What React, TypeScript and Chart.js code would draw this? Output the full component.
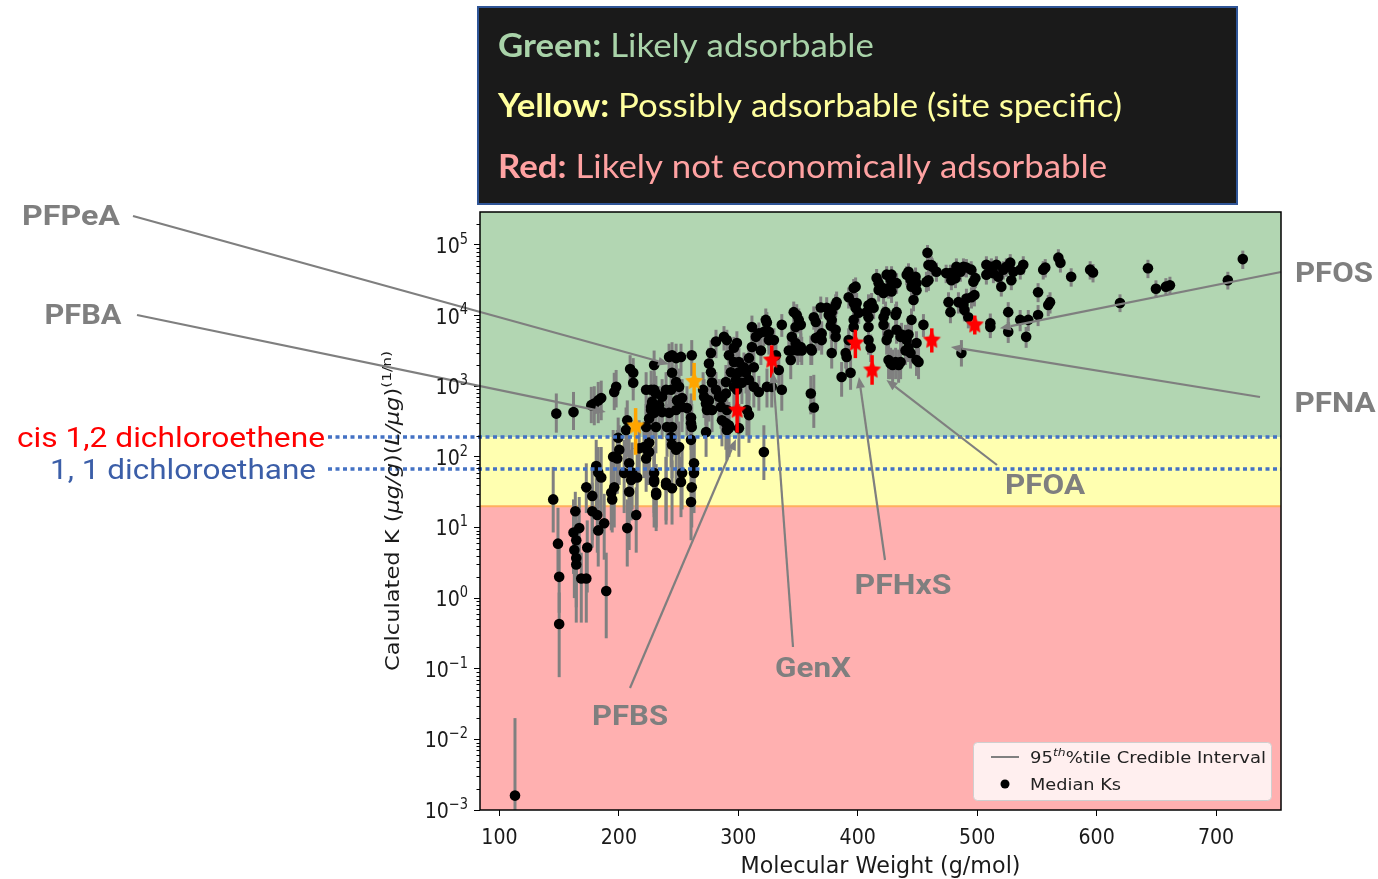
import React, { useEffect, useRef } from 'react';
import { Chart, registerables } from 'chart.js';

Chart.register(...registerables);

// ================= DATA =================
// Molecular weight (g/mol), median K, lower / upper 95th-percentile credible bounds

// Group A: short chain compounds (MW < 240)
const mwA = [
  113, 145, 147.6, 149, 150, 150, 162, 163.5, 162, 164.3,
  162.7, 164.3, 164.3, 168.5, 172.7, 166.8, 173.5, 172.7, 177.7, 177.7,
  181.9, 182.7, 187.7, 189.4, 176.9, 179.4, 182.7, 185.2, 196.1, 197.7,
  209.4, 212, 212, 229.5, 181, 182.7, 185.2, 196.1, 193.6, 194.4,
  198.6, 200.3, 195.2, 199.4, 207, 206, 204.4, 208.6, 211.1, 210.3,
  208.6, 215.3, 217, 222.8, 223.6, 225.3, 229.5, 229.5, 231.2, 227,
  227.8, 229.5, 227, 239.5, 214.5, 207,
];
const kA = [
  0.0016, 25, 410, 5.9, 2.0, 0.43, 430, 17, 8.5, 6.6,
  4.8, 3.7, 3.0, 1.9, 1.9, 9.8, 5.2, 37, 28, 17,
  15, 9.1, 11.5, 1.26, 540, 570, 630, 680, 830, 980,
  1750, 1550, 1120, 2000, 74, 60, 51, 37, 31, 25,
  95, 126, 100, 186, 330, 240, 59, 81, 60, 47,
  32, 51, 132, 95, 126, 160, 47, 59, 29, 460,
  600, 890, 890, 40, 15, 9.8,
];
const kLoA = [
  0.0005, 8.5, 220, 2.2, 0.62, 0.076, 240, 5.2, 2.2, 1.8,
  1.0, 0.74, 0.45, 0.45, 0.45, 3.5, 1.2, 16, 6.6, 5.2,
  4.4, 2.8, 3.5, 0.27, 300, 280, 300, 330, 460, 500,
  980, 890, 630, 1120, 19, 19, 16, 10, 9.1, 8.5,
  30, 40, 35, 47, 100, 79, 16, 25, 18, 12.6,
  4.8, 14, 47, 32, 40, 56, 10, 16, 10, 200,
  280, 450, 450, 11, 4.4, 2.8,
];
const kHiA = [
  0.02, 72, 790, 19, 5.2, 1.2, 830, 32, 25, 19,
  10, 12.6, 6.6, 4.4, 5.2, 27, 12.6, 81, 72, 43,
  37, 25, 30, 4.4, 980, 1000, 1150, 1200, 1550, 1700,
  2750, 2500, 2000, 3200, 174, 138, 138, 126, 89, 72,
  240, 280, 240, 360, 630, 500, 174, 200, 160, 126,
  72, 126, 330, 224, 280, 355, 112, 141, 65, 890,
  1120, 1580, 1660, 100, 37, 25,
];

// Group B: MW 220 - 325
const mwB = [
  222.8, 231, 227, 229.5, 225.3, 222.8, 231, 233.7, 221, 225.3,
  229.5, 231.2, 239.5, 244.5, 252, 242, 244.5, 247.9, 252, 261,
  244.5, 247.9, 250.4, 243.7, 239.5, 236.2, 248.7, 252.9, 252.9, 257,
  247.9, 242, 236.2, 244.5, 240.3, 243.7, 244.5, 247.9, 250.4, 260.4,
  260.4, 260.4, 261, 262.9, 262.9, 261, 260.4, 252.9, 273, 271.3,
  270.5, 272.9, 275.4, 277.1, 275.4, 277.1, 281.3, 278, 281.3, 283.8,
  286.3, 289.6, 285.5, 278, 273.8, 289.6, 286.3, 292.1, 290.4, 288,
  290.4, 296.3, 298.8, 292.1, 296.3, 300.5, 293.8, 300.5, 304.7, 298,
  298.8, 303, 296.3, 289.6, 311.4, 314.7, 311.4, 317.2, 321.4, 323.9,
  323, 325.6, 318.9, 308.9, 313, 306.4, 308.9, 313, 317.2, 307.2,
  308.9, 300.5, 324, 321.4, 292.1, 290.4,
];
const kB = [
  890, 790, 510, 420, 350, 265, 265, 540, 138, 117,
  44, 31, 43, 36, 44, 2600, 2750, 2500, 2600, 2750,
  1550, 1150, 980, 890, 890, 710, 630, 680, 510, 490,
  460, 420, 430, 265, 265, 190, 148, 126, 138, 174,
  360, 300, 265, 81, 59, 37, 23, 59, 224, 710,
  890, 570, 630, 1580, 2100, 2950, 4300, 1130, 890, 710,
  680, 790, 510, 460, 460, 300, 330, 255, 240, 5000,
  4500, 3500, 4100, 2750, 2200, 2200, 1580, 1580, 1860, 1230,
  890, 1120, 980, 1150, 6900, 5000, 3600, 5600, 5900, 8000,
  8700, 4500, 3200, 2500, 1860, 1550, 1230, 980, 830, 460,
  390, 255, 980, 117, 280, 460,
];
const kLoB = [
  400, 355, 224, 178, 141, 100, 112, 250, 50, 40,
  14, 8.9, 12.6, 11, 14, 1400, 1580, 1400, 1400, 1400,
  790, 560, 500, 450, 400, 316, 280, 316, 224, 200,
  200, 178, 178, 100, 100, 71, 50, 40, 45, 56,
  158, 126, 100, 25, 16, 10, 6.6, 18, 100, 355,
  450, 280, 316, 890, 1260, 1780, 2500, 560, 450, 355,
  355, 400, 250, 224, 200, 126, 141, 100, 89, 3200,
  2800, 2000, 2500, 1580, 1260, 1260, 890, 890, 1000, 630,
  450, 560, 500, 560, 4500, 3200, 2200, 3500, 3700, 5000,
  5600, 2800, 2000, 1400, 1000, 790, 630, 500, 450, 200,
  158, 100, 500, 47, 112, 200,
];
const kHiB = [
  1580, 1400, 1000, 790, 710, 560, 525, 1000, 316, 280,
  112, 79, 100, 89, 100, 4000, 4200, 4000, 4000, 4500,
  2800, 2000, 1780, 1580, 1580, 1260, 1120, 1260, 1000, 1000,
  890, 790, 790, 560, 560, 400, 316, 280, 316, 400,
  790, 630, 560, 200, 158, 100, 63, 141, 450, 1260,
  1580, 1000, 1120, 2500, 3500, 4500, 6300, 2000, 1580, 1260,
  1260, 1400, 1000, 890, 890, 630, 710, 560, 500, 7100,
  6300, 5000, 6000, 4200, 3500, 3500, 2600, 2600, 3000, 2000,
  1580, 2000, 1780, 2000, 10000, 7400, 5600, 8000, 8300, 11200,
  12600, 6600, 5000, 4000, 3200, 2500, 2000, 1660, 1400, 890,
  790, 560, 1780, 280, 600, 890,
];

// Group C: MW 325 - 465
const mwC = [
  336.4, 325.6, 329.8, 331.5, 333.9, 328, 336.4, 346.4, 348.9, 350.6,
  348, 352.3, 344.8, 348, 352.3, 344.8, 349.8, 342.3, 343.9, 353.1,
  361.5, 363.2, 364.9, 369, 369.8, 367.3, 369.8, 364.9, 360.7, 360.7,
  363.2, 374, 375.7, 378.2, 381.5, 382.3, 378.2, 377.4, 381.5, 381.5,
  378.2, 390.7, 389.9, 386.5, 394, 396.6, 398.2, 392.4, 396.6, 399.1,
  398.2, 400.8, 396.6, 396.6, 392.4, 409, 411.6, 407.4, 409, 409,
  409, 410.8, 413.3, 417.5, 415.8, 417.5, 420, 421.6, 424.2, 428.3,
  427.5, 430, 432.5, 425.8, 428.3, 423.3, 421.6, 421.6, 425.8, 424.2,
  431.7, 432.5, 432.5, 435.9, 436.7, 440, 442.5, 440.9, 442.5, 444.2,
  440, 449.2, 431.7, 427.5, 429.2, 434.2, 435.9, 425.8, 441, 442.5,
  444.2, 448.4, 449.2, 445, 449.2, 446.7, 445, 455, 449.2, 450.9,
  457.5, 459.2, 461.7, 458.4, 462.5,
];
const kC = [
  7400, 5900, 4500, 2750, 1700, 980, 890, 11200, 10200, 8700,
  6900, 7400, 5000, 4100, 3600, 3200, 3200, 3200, 2350, 3200,
  3200, 9500, 8100, 13000, 5600, 5000, 4500, 4800, 3400, 790,
  500, 12900, 10200, 11200, 14000, 15500, 8700, 7200, 6300, 5000,
  2950, 2600, 2950, 1350, 1550, 24500, 25700, 18200, 15100, 15100,
  12900, 11000, 8700, 6900, 4500, 14000, 15100, 11200, 9500, 6900,
  4500, 3500, 12900, 23000, 34000, 28800, 25100, 20900, 38000, 38000,
  32400, 28800, 28800, 24500, 21900, 11200, 9500, 7400, 5400, 4500,
  10200, 11200, 6300, 5000, 5400, 5000, 5400, 4500, 3500, 2950,
  3200, 4100, 2200, 2100, 2000, 2000, 2200, 2350, 38000, 41700,
  32400, 35500, 28800, 25700, 22900, 16600, 8700, 7400, 2350, 2200,
  30000, 52000, 52000, 77600, 49000,
];
const kLoC = [
  5000, 3500, 2800, 1580, 890, 500, 450, 7600, 7100, 5600,
  4500, 5000, 3200, 2500, 2200, 2000, 2000, 2000, 1260, 2000,
  2000, 6300, 5200, 8900, 3500, 3200, 2800, 3000, 2000, 400,
  257, 8700, 6900, 7600, 9500, 10500, 5600, 4700, 4000, 3200,
  1780, 1580, 1780, 710, 890, 17800, 18600, 12600, 10500, 10500,
  8900, 7600, 5900, 4500, 2800, 9500, 10500, 7600, 6300, 4500,
  2800, 2200, 8900, 15800, 24000, 20000, 17800, 14500, 26900, 26900,
  22900, 20400, 20400, 17400, 15100, 7600, 6300, 5000, 3400, 2800,
  6900, 7600, 4000, 3200, 3400, 3200, 3400, 2800, 2200, 1780,
  2000, 2500, 1260, 1260, 1120, 1120, 1260, 1260, 26900, 29500,
  22900, 25100, 20400, 18200, 16200, 11500, 5900, 5000, 1400, 1260,
  21400, 38000, 38000, 57500, 35500,
];
const kHiC = [
  10500, 8300, 6600, 4200, 2800, 1660, 1580, 15800, 14500, 12600,
  10000, 10500, 7400, 6000, 5600, 5000, 5000, 5000, 3700, 5000,
  5000, 13500, 11700, 18600, 8300, 7600, 6600, 7100, 5200, 1400,
  1450, 18200, 14500, 15800, 20000, 21900, 12600, 10500, 9100, 7400,
  4600, 4000, 4600, 2200, 2500, 33000, 34700, 25000, 20900, 20900,
  17800, 15100, 12600, 10000, 6600, 20000, 20900, 15800, 13500, 10000,
  6600, 5400, 17800, 31600, 45700, 39800, 34700, 28800, 50000, 50000,
  43700, 39800, 39800, 33100, 30200, 15800, 13500, 10500, 7900, 6600,
  14500, 15800, 9100, 7400, 7900, 7400, 7900, 6600, 5400, 4600,
  5000, 6000, 3500, 3500, 3300, 3300, 3500, 3700, 50000, 55000,
  43700, 47900, 39800, 35500, 31600, 22900, 12600, 10500, 3700, 3500,
  41700, 69000, 69000, 100000, 64600,
];

// Group D: MW > 455
const mwD = [
  465.9, 459.2, 474, 477.6, 480.1, 478.4, 481.8, 482.6, 486, 488.5,
  491, 495, 498.5, 496.8, 507.7, 511.9, 513.6, 516.1, 517.7, 520.2,
  521.9, 527.7, 530.3, 528.6, 536.1, 538.6, 524.4, 507.7, 476, 477.6,
  484.3, 488.5, 491, 495.2, 497.7, 489.3, 492.6, 511, 511, 526,
  526, 536, 542.8, 541, 551, 551, 555.3, 557, 561, 559.5,
  568, 569.7, 578.7, 594.6, 597, 486.8, 619.6, 643, 649.7, 658,
  661.4, 722.4, 709.9,
];
const kD = [
  41700, 31600, 40000, 40000, 37200, 31600, 33900, 49000, 41700, 49000,
  47900, 44700, 33900, 30200, 52500, 49000, 39800, 52500, 35500, 25700,
  44700, 56200, 41700, 31600, 44700, 52500, 49000, 38000, 15500, 11200,
  15500, 14100, 17400, 18200, 19500, 12000, 9500, 6900, 7800, 11200,
  5900, 8700, 8700, 5000, 21400, 10200, 44700, 47900, 15500, 14100,
  66100, 56200, 35500, 44700, 40700, 2950, 15100, 46800, 24000, 25700,
  26900, 63100, 31600,
];
const kLoD = [
  30200, 22400, 28800, 28800, 26900, 22900, 24500, 35500, 30200, 35500,
  34700, 32400, 24500, 21900, 38000, 35500, 28800, 38000, 25700, 18600,
  32400, 40700, 30200, 22900, 32400, 38000, 35500, 27500, 10700, 7800,
  10700, 9800, 12000, 12600, 13500, 8300, 6600, 4800, 5400, 7800,
  4100, 6000, 6000, 3500, 15500, 7100, 32400, 34700, 10700, 9800,
  47900, 40700, 25700, 32400, 29500, 1900, 11200, 33900, 17800, 19100,
  20000, 45700, 23400,
];
const kHiD = [
  56200, 43700, 52500, 52500, 50100, 42700, 45700, 64600, 56200, 64600,
  63100, 58900, 45700, 40700, 69200, 64600, 52500, 69200, 47900, 34700,
  58900, 74100, 56200, 42700, 58900, 69200, 64600, 50100, 21400, 15500,
  21400, 19500, 24000, 25100, 26900, 16600, 13200, 9500, 10700, 15500,
  8100, 12000, 12000, 6900, 28800, 14100, 58900, 63100, 21400, 19500,
  87100, 74100, 46800, 58900, 53700, 4500, 20000, 61700, 31600, 33900,
  35500, 83200, 41700,
];

// Highlighted regulated compounds
const hlNames = ['PFBA', 'PFPeA', 'PFBS', 'GenX', 'PFHxS', 'PFOA', 'PFNA', 'PFOS'];
const hlMw = [214, 263, 299, 328, 398, 412, 462, 498];
const hlK = [275, 1170, 460, 2350, 4100, 1700, 4500, 7400];
const hlLo = [107, 630, 220, 1320, 2500, 1050, 3000, 5400];
const hlHi = [490, 2140, 930, 3800, 6300, 2750, 6600, 10000];
const hlTier = ['orange', 'orange', 'red', 'red', 'red', 'red', 'red', 'red'];

// Callout arrows: label -> arrow tip (data coordinates)
const annNames = ['PFPeA', 'PFBA', 'PFBS', 'GenX', 'PFHxS', 'PFOA', 'PFNA', 'PFOS'];
const annTipMw = [242, 189, 298, 329, 401, 424, 478, 519];
const annTipK = [2050, 430, 178, 1580, 1350, 1230, 3600, 6600];

// Reference compounds (horizontal dotted lines) and zone limits
const refNames = ['cis 1,2 dichloroethene', '1, 1 dichloroethane'];
const refK = [190, 68];
const greenLimitK = 190;
const redLimitK = 20;

// Axes
const xTickValues = [100, 200, 300, 400, 500, 600, 700];
const xTickLabels = ['100', '200', '300', '400', '500', '600', '700'];
const yTickValues = [0.001, 0.01, 0.1, 1, 10, 100, 1000, 10000, 100000];
const yTickExponents = ['\u22123', '\u22122', '\u22121', '0', '1', '2', '3', '4', '5'];
const yMinorMultipliers = [2, 3, 4, 5, 6, 7, 8, 9];
const xTitle = 'Molecular Weight (g/mol)';

const boxLines = [
  ['Green:', ' Likely adsorbable'],
  ['Yellow:', ' Possibly adsorbable (site specific)'],
  ['Red:', ' Likely not economically adsorbable'],
];
const legendLabels = ['Credible Interval', 'Median Ks'];

// ================= LAYOUT / STYLE =================
const W = 1378;
const H = 879;
const X_MIN = 83.7;
const X_MAX = 754.4;
const Y_MIN = 0.001;
const Y_MAX = 2.93e5;

const C_GREEN = 'rgb(178,214,178)';
const C_YELLOW = 'rgb(255,255,176)';
const C_RED = 'rgb(255,176,176)';
const C_ORANGE_LINE = 'rgb(255,175,95)';
const C_DOT_BLUE = '#4472c4';
const C_CALLOUT = '#7f7f7f';
const C_BAR = '#808080';
const TIER_COLORS: any = { orange: '#ffa500', red: '#ff0000' };

const annLabelCenter = [[71, 215], [83, 314], [630, 715], [813, 667], [903, 584], [1045, 484], [1335, 402], [1334, 272]];
const annLabelWidth = [98, 77, 76, 76, 97, 80, 81, 78];
const annLineStart = [[133, 216], [137, 315], [630, 688], [793, 647], [885, 560], [997, 465], [1260, 397], [1281, 272]];

const refLabelRight = [325, 316];
const refLabelWidth = [308, 266];
const refLabelColor = ['#ff0000', '#3b5ea8'];
const refLineStartX = 328;

type Run = { t: string; f: string; dy?: number; c?: string };

function drawRuns(ctx: any, runs: Run[], x: number, y: number, o: any) {
  ctx.save();
  let total = 0;
  const widths = runs.map((r) => {
    ctx.font = r.f;
    const w = ctx.measureText(r.t).width;
    total += w;
    return w;
  });
  const sx = o.width ? o.width / total : o.sx ?? 1;
  const sy = o.sy ?? 1;
  ctx.translate(x, y);
  if (o.rotate) ctx.rotate(o.rotate);
  ctx.scale(sx, sy);
  let start = o.align === 'left' ? 0 : o.align === 'center' ? -total / 2 : -total;
  ctx.textAlign = 'left';
  ctx.textBaseline = 'alphabetic';
  runs.forEach((r, i) => {
    ctx.font = r.f;
    ctx.fillStyle = r.c ?? o.color;
    ctx.fillText(r.t, start, r.dy ?? 0);
    start += widths[i];
  });
  ctx.restore();
  return total * sx;
}

function makeStar(color: string, r: number) {
  const c = document.createElement('canvas');
  const s = Math.ceil(r * 2 + 2);
  c.width = s;
  c.height = s;
  const g = c.getContext('2d') as CanvasRenderingContext2D;
  g.fillStyle = color;
  g.beginPath();
  for (let i = 0; i < 10; i++) {
    const ang = -Math.PI / 2 + (i * Math.PI) / 5;
    const rr = i % 2 === 0 ? r : r * 0.5;
    const px = s / 2 + rr * Math.cos(ang);
    const py = s / 2 + rr * Math.sin(ang);
    if (i === 0) g.moveTo(px, py);
    else g.lineTo(px, py);
  }
  g.closePath();
  g.fill();
  return c;
}

const TICK_FONT = '19px "DejaVu Sans"';
const SUP_FONT = '13px "DejaVu Sans"';
const TEXT_SY = 1.15;

const decor = {
  id: 'decor',
  beforeDraw(chart: any) {
    const { ctx, chartArea: a, scales } = chart;
    const y = scales.y;
    const yG = y.getPixelForValue(greenLimitK);
    const yR = y.getPixelForValue(redLimitK);
    ctx.save();
    ctx.fillStyle = C_GREEN;
    ctx.fillRect(a.left, a.top, a.right - a.left, yG - a.top);
    ctx.fillStyle = C_YELLOW;
    ctx.fillRect(a.left, yG, a.right - a.left, yR - yG);
    ctx.fillStyle = C_RED;
    ctx.fillRect(a.left, yR, a.right - a.left, a.bottom - yR);
    ctx.strokeStyle = C_ORANGE_LINE;
    ctx.lineWidth = 2;
    ctx.beginPath();
    ctx.moveTo(a.left, yR);
    ctx.lineTo(a.right, yR);
    ctx.stroke();
    ctx.restore();
  },
  beforeDatasetDraw(chart: any, args: any) {
    const ds = chart.data.datasets[args.index];
    if (!ds.errLo) return;
    const { ctx, chartArea: a, scales } = chart;
    ctx.save();
    ctx.beginPath();
    ctx.rect(a.left, a.top, a.right - a.left, a.bottom - a.top);
    ctx.clip();
    ctx.strokeStyle = ds.errColor;
    ctx.lineWidth = ds.errWidth;
    ctx.lineCap = 'butt';
    ds.data.forEach((p: any, i: number) => {
      const px = scales.x.getPixelForValue(p.x);
      const y1 = scales.y.getPixelForValue(ds.errLo[i]);
      const y2 = scales.y.getPixelForValue(ds.errHi[i]);
      ctx.beginPath();
      ctx.moveTo(px, y1);
      ctx.lineTo(px, y2);
      ctx.stroke();
    });
    ctx.restore();
  },
  afterDatasetsDraw(chart: any) {
    const { ctx, chartArea: a, scales } = chart;
    ctx.save();
    // reference dotted lines
    ctx.strokeStyle = C_DOT_BLUE;
    ctx.lineWidth = 3.5;
    ctx.setLineDash([4, 3.5]);
    refK.forEach((k) => {
      const py = Math.round(scales.y.getPixelForValue(k));
      ctx.beginPath();
      ctx.moveTo(refLineStartX, py);
      ctx.lineTo(a.right, py);
      ctx.stroke();
    });
    ctx.setLineDash([]);
    // callout arrows
    ctx.strokeStyle = C_CALLOUT;
    ctx.fillStyle = C_CALLOUT;
    ctx.lineWidth = 2.2;
    annNames.forEach((n, i) => {
      const [sx, sy] = annLineStart[i];
      const tx = scales.x.getPixelForValue(annTipMw[i]);
      const ty = scales.y.getPixelForValue(annTipK[i]);
      const ang = Math.atan2(ty - sy, tx - sx);
      const hl = 11;
      const hw = 4.5;
      const bx = tx - hl * Math.cos(ang);
      const by = ty - hl * Math.sin(ang);
      ctx.beginPath();
      ctx.moveTo(sx, sy);
      ctx.lineTo(bx, by);
      ctx.stroke();
      ctx.beginPath();
      ctx.moveTo(tx, ty);
      ctx.lineTo(bx + hw * Math.sin(ang), by - hw * Math.cos(ang));
      ctx.lineTo(bx - hw * Math.sin(ang), by + hw * Math.cos(ang));
      ctx.closePath();
      ctx.fill();
    });
    ctx.restore();
  },
  afterDraw(chart: any) {
    const { ctx, chartArea: a, scales } = chart;
    const xs = scales.x;
    const ys = scales.y;
    ctx.save();
    // spines
    ctx.strokeStyle = '#000';
    ctx.lineWidth = 1.5;
    ctx.strokeRect(a.left, a.top, a.right - a.left, a.bottom - a.top);
    // minor ticks on log axis
    ctx.lineWidth = 1;
    yTickValues.forEach((v) => {
      yMinorMultipliers.forEach((m) => {
        const val = v * m;
        if (val > Y_MAX) return;
        const py = Math.round(ys.getPixelForValue(val)) + 0.5;
        ctx.beginPath();
        ctx.moveTo(a.left, py);
        ctx.lineTo(a.left - 3.5, py);
        ctx.stroke();
      });
    });
    ctx.restore();

    // tick labels
    xTickValues.forEach((v, i) => {
      drawRuns(ctx, [{ t: xTickLabels[i], f: TICK_FONT }], xs.getPixelForValue(v), 844, { align: 'center', color: '#1a1a1a', sy: TEXT_SY });
    });
    yTickValues.forEach((v, i) => {
      const py = ys.getPixelForValue(v);
      drawRuns(ctx, [{ t: '10', f: TICK_FONT }, { t: yTickExponents[i], f: SUP_FONT, dy: -8 }], 468, py + 8, { align: 'right', color: '#1a1a1a', sy: TEXT_SY });
    });
    // axis titles
    drawRuns(ctx, [{ t: xTitle, f: '20px "DejaVu Sans"' }], (a.left + a.right) / 2, 873, { align: 'center', color: '#1a1a1a', width: 280, sy: TEXT_SY });
    drawRuns(
      ctx,
      [
        { t: 'Calculated K (', f: '19px "DejaVu Sans"' },
        { t: '\u03bcg/g', f: 'italic 19px "DejaVu Sans"' },
        { t: ')(', f: '19px "DejaVu Sans"' },
        { t: 'L/\u03bcg', f: 'italic 19px "DejaVu Sans"' },
        { t: ')', f: '19px "DejaVu Sans"' },
        { t: '(1/n)', f: '13px "DejaVu Sans"', dy: -8 },
      ],
      399,
      (a.top + a.bottom) / 2,
      { align: 'center', color: '#1a1a1a', width: 320, rotate: -Math.PI / 2 }
    );

    // legend
    ctx.save();
    ctx.fillStyle = 'rgba(255,255,255,0.8)';
    ctx.strokeStyle = '#cfcfcf';
    ctx.lineWidth = 1;
    ctx.beginPath();
    (ctx as any).roundRect(973.5, 742.5, 298, 58, 4);
    ctx.fill();
    ctx.stroke();
    ctx.strokeStyle = C_BAR;
    ctx.lineWidth = 2;
    ctx.beginPath();
    ctx.moveTo(991, 757);
    ctx.lineTo(1019, 757);
    ctx.stroke();
    ctx.fillStyle = '#000';
    ctx.beginPath();
    ctx.arc(1005, 784, 4.5, 0, Math.PI * 2);
    ctx.fill();
    ctx.restore();
    drawRuns(
      ctx,
      [
        { t: '95', f: '16px "DejaVu Sans"' },
        { t: 'th', f: 'italic 11px "DejaVu Sans"', dy: -7 },
        { t: '%tile ' + legendLabels[0], f: '16px "DejaVu Sans"' },
      ],
      1030,
      763,
      { align: 'left', color: '#222', width: 236 }
    );
    drawRuns(ctx, [{ t: legendLabels[1], f: '16px "DejaVu Sans"' }], 1030, 790, { align: 'left', color: '#222', width: 91 });

    // reference compound labels
    refNames.forEach((n, i) => {
      const py = ys.getPixelForValue(refK[i]);
      drawRuns(ctx, [{ t: n, f: '27px Roboto' }], refLabelRight[i], py + 10, { align: 'right', color: refLabelColor[i], width: refLabelWidth[i] });
    });

    // callout labels
    annNames.forEach((n, i) => {
      const [cx, cy] = annLabelCenter[i];
      drawRuns(ctx, [{ t: n, f: 'bold 28px Roboto' }], cx, cy + 10, { align: 'center', color: C_CALLOUT, width: annLabelWidth[i] });
    });

    // top key box
    ctx.save();
    ctx.fillStyle = '#1a1a1a';
    ctx.fillRect(478, 7, 759, 197);
    ctx.strokeStyle = '#2f5597';
    ctx.lineWidth = 2;
    ctx.strokeRect(478, 7, 759, 197);
    ctx.restore();
    const boxColors = ['#a9d3a9', '#ffff9e', '#ffa2a2'];
    const boxBase = [57, 117, 178];
    ctx.save();
    ctx.font = 'bold 32px Lato';
    const wb = ctx.measureText(boxLines[1][0]).width;
    ctx.font = '32px Lato';
    const wr = ctx.measureText(boxLines[1][1]).width;
    ctx.restore();
    const bsx = 624 / (wb + wr);
    boxLines.forEach((ln, i) => {
      drawRuns(
        ctx,
        [
          { t: ln[0], f: 'bold 32px Lato' },
          { t: ln[1], f: '32px Lato' },
        ],
        498,
        boxBase[i],
        { align: 'left', color: boxColors[i], sx: bsx }
      );
    });
  },
};

export default function App() {
  const ref = useRef<HTMLCanvasElement | null>(null);
  useEffect(() => {
    document.body.style.margin = '0';
    const canvas = ref.current;
    if (!canvas) return;
    const mw = [...mwA, ...mwB, ...mwC, ...mwD];
    const k = [...kA, ...kB, ...kC, ...kD];
    const lo = [...kLoA, ...kLoB, ...kLoC, ...kLoD];
    const hi = [...kHiA, ...kHiB, ...kHiC, ...kHiD];
    const tierDataset = (tier: string, order: number) => {
      const idx = hlNames.map((_, i) => i).filter((i) => hlTier[i] === tier);
      return {
        label: tier,
        data: idx.map((i) => ({ x: hlMw[i], y: hlK[i] })),
        errLo: idx.map((i) => hlLo[i]),
        errHi: idx.map((i) => hlHi[i]),
        errColor: TIER_COLORS[tier],
        errWidth: 3.5,
        pointStyle: makeStar(TIER_COLORS[tier], 9.5),
        pointRadius: 9,
        order,
      };
    };
    const chart = new Chart(canvas, {
      type: 'scatter',
      data: {
        datasets: [
          tierDataset('orange', 0),
          tierDataset('red', 0),
          {
            label: 'Median Ks',
            data: mw.map((x, i) => ({ x, y: k[i] })),
            errLo: lo,
            errHi: hi,
            errColor: C_BAR,
            errWidth: 3,
            backgroundColor: '#000',
            borderWidth: 0,
            pointRadius: 5.3,
            order: 1,
          } as any,
        ],
      },
      options: {
        animation: false,
        responsive: false,
        maintainAspectRatio: false,
        devicePixelRatio: 1,
        layout: { padding: { left: 0, right: W - 1281, top: 212, bottom: 0 } },
        plugins: { legend: { display: false }, tooltip: { enabled: false }, title: { display: false } },
        events: [],
        scales: {
          x: {
            type: 'linear',
            min: X_MIN,
            max: X_MAX,
            afterBuildTicks: (s: any) => {
              s.ticks = xTickValues.map((v) => ({ value: v }));
            },
            afterFit: (s: any) => {
              s.height = H - 810;
            },
            ticks: { display: false },
            grid: { drawOnChartArea: false, drawTicks: true, tickLength: 6, color: '#000', lineWidth: 1 },
            border: { display: false },
          },
          y: {
            type: 'logarithmic',
            min: Y_MIN,
            max: Y_MAX,
            afterBuildTicks: (s: any) => {
              s.ticks = yTickValues.map((v) => ({ value: v }));
            },
            afterFit: (s: any) => {
              s.width = 480;
            },
            ticks: { display: false },
            grid: { drawOnChartArea: false, drawTicks: true, tickLength: 6, color: '#000', lineWidth: 1 },
            border: { display: false },
          },
        },
      } as any,
      plugins: [decor],
    });
    return () => chart.destroy();
  }, []);
  return (
    <div style={{ position: 'absolute', left: 0, top: 0, width: W, height: H, background: '#fff' }}>
      <canvas ref={ref} width={W} height={H} style={{ width: W, height: H, display: 'block' }} />
    </div>
  );
}
